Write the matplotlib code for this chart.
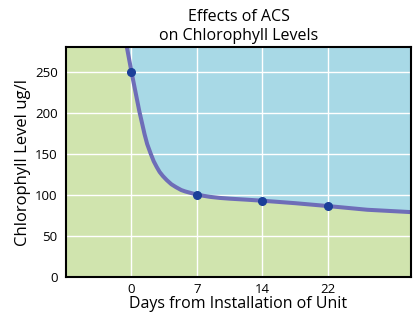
import matplotlib
matplotlib.use('Agg')
import matplotlib.pyplot as plt

plt.rcParams['font.family'] = ['Open Sans', 'DejaVu Sans']

# measured days and chlorophyll readings
day_labels = ['0', '7', '14', '22']
levels = [250, 100, 93, 86.5]

# trend line (x in category positions)
curve_x = [-0.07, -0.035, 0.0, 0.03, 0.07, 0.12, 0.16, 0.2, 0.24, 0.295, 0.34, 0.386,
           0.43, 0.48, 0.54, 0.61, 0.68, 0.76, 0.82, 0.88, 0.94, 1.0, 1.1, 1.2,
           1.35, 1.5, 1.75, 2.0, 2.5, 3.0, 3.6, 4.3]
curve_y = [280, 265, 250, 238, 222, 202, 188, 174, 162, 150, 141, 134,
           128, 123, 118, 113, 109.5, 106, 104.3, 103, 101.7, 100.7, 99, 97.7,
           96.4, 95.5, 94.3, 93, 90, 86.5, 82, 79]

green = '#d0e4ae'
blue = '#a8d9e6'

fig = plt.figure(figsize=(4.2, 3.16), dpi=100)
ax = fig.add_axes([0.157, 0.123, 0.822, 0.728])
ax.set_facecolor(green)

pos = list(range(len(day_labels)))
ax.fill_between(curve_x, curve_y, 290, color=blue, lw=0, zorder=0)
ax.grid(True, color='white', lw=1.0, zorder=1)
ax.set_axisbelow(False)
ax.plot(curve_x, curve_y, color='#6e6db8', lw=2.9, zorder=3, solid_joinstyle='round')
ax.plot(pos, levels, 'o', color='#1b3f99', ms=5.5, zorder=4)

ax.set_xlim(-1.0, 4.27)
ax.set_ylim(0, 280)
ax.set_xticks(pos)
ax.set_xticklabels(day_labels)
ax.set_yticks([0, 50, 100, 150, 200, 250])
ax.tick_params(length=0, labelsize=9.5, pad=4)
ax.tick_params(axis='y', pad=6)

for s in ax.spines.values():
    s.set_linewidth(1.5)
    s.set_color('black')
    s.set_zorder(5)

ax.set_title('Effects of ACS\non Chlorophyll Levels', fontsize=11.5, linespacing=1.25, pad=5)
ax.set_xlabel('Days from Installation of Unit', fontsize=11.5, labelpad=0)
ax.set_ylabel('Chlorophyll Level ug/l', fontsize=12, labelpad=3)

fig.savefig('out.png', dpi=100)
